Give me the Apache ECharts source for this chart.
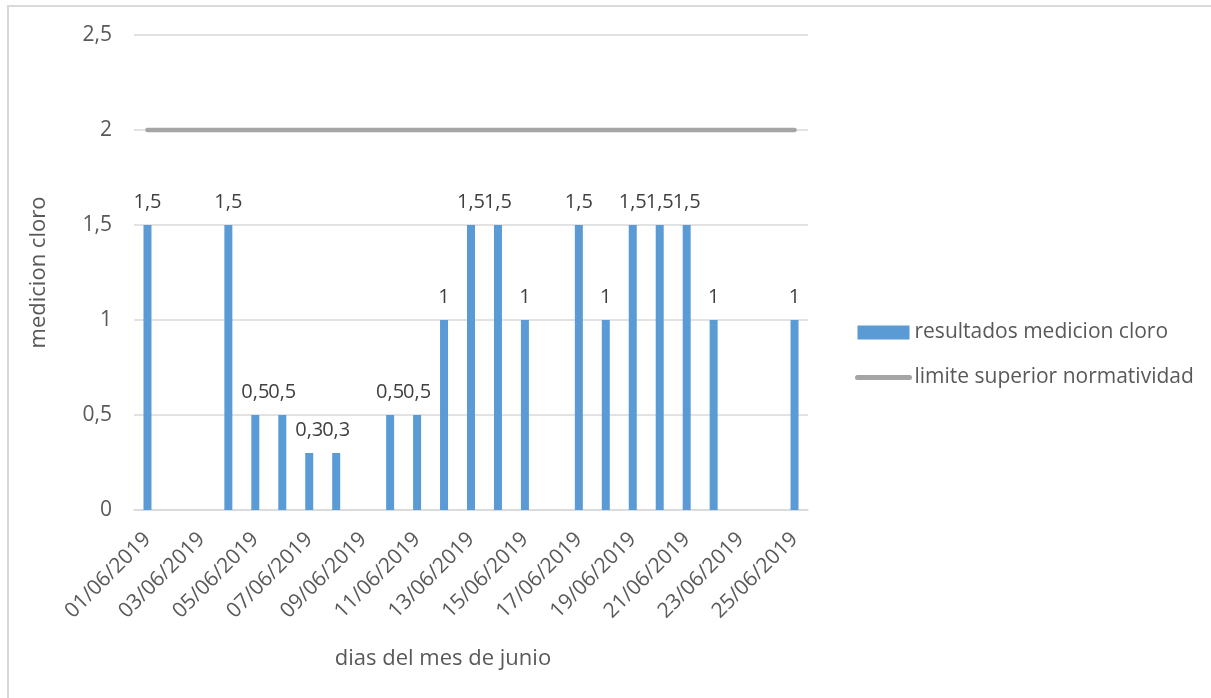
<!DOCTYPE html>
<html>
<head>
<meta charset="utf-8">
<script src="https://cdn.jsdelivr.net/npm/echarts@6/dist/echarts.min.js"></script>
<style>
  html, body { margin: 0; padding: 0; background: #fff; }
  #chart { width: 1211px; height: 698px; }
</style>
</head>
<body>
<div id="chart"></div>
<script>
// Días de junio 2019 (una categoría por día)
const dias = [
  '01/06/2019','02/06/2019','03/06/2019','04/06/2019','05/06/2019',
  '06/06/2019','07/06/2019','08/06/2019','09/06/2019','10/06/2019',
  '11/06/2019','12/06/2019','13/06/2019','14/06/2019','15/06/2019',
  '16/06/2019','17/06/2019','18/06/2019','19/06/2019','20/06/2019',
  '21/06/2019','22/06/2019','23/06/2019','24/06/2019','25/06/2019'
];
// Medición de cloro por día (null = sin medición)
const medicionCloro = [
  1.5, null, null, 1.5, 0.5,
  0.5, 0.3, 0.3, null, 0.5,
  0.5, 1, 1.5, 1.5, 1,
  null, 1.5, 1, 1.5, 1.5,
  1.5, 1, null, null, 1
];
// Límite superior de la normatividad
const limiteSuperior = dias.map(() => 2);
const yTicks = { min: 0, max: 2.5, interval: 0.5 };

const FONT = '"Open Sans", "Noto Sans", sans-serif';
const coma = v => String(v).replace('.', ',');

const chart = echarts.init(document.getElementById('chart'), null, { renderer: 'canvas' });
chart.setOption({
  backgroundColor: '#ffffff',
  animation: false,
  textStyle: { fontFamily: FONT },
  graphic: [{
    type: 'rect',
    shape: { x: 8, y: 6, width: 1400, height: 900 },
    style: { fill: 'none', stroke: '#D9D9D9', lineWidth: 2 },
    silent: true,
    z: -10
  }],
  grid: { left: 134, right: 403, top: 35, bottom: 188 },
  legend: {
    orient: 'vertical',
    left: 855,
    top: 322,
    padding: 0,
    itemWidth: 52,
    itemHeight: 14,
    itemGap: 24,
    textStyle: { color: '#595959', fontSize: 21, fontFamily: FONT },
    data: [
      { name: 'resultados medicion cloro', icon: 'rect' },
      {
        name: 'limite superior normatividad',
        lineStyle: { width: 5, cap: 'round', color: '#A5A5A5' },
        itemStyle: { opacity: 0 }
      }
    ]
  },
  xAxis: {
    type: 'category',
    data: dias,
    boundaryGap: true,
    name: 'dias del mes de junio',
    nameLocation: 'middle',
    nameGap: 138,
    nameTextStyle: { color: '#595959', fontSize: 22, padding: [0, 56, 0, 0] },
    axisLine: { lineStyle: { color: '#D9D9D9', width: 1.5 } },
    axisTick: { show: false },
    axisLabel: {
      interval: 1,
      rotate: 45,
      margin: 26,
      color: '#595959',
      fontSize: 21
    }
  },
  yAxis: {
    type: 'value',
    min: yTicks.min,
    max: yTicks.max,
    interval: yTicks.interval,
    name: 'medicion cloro',
    nameLocation: 'middle',
    nameGap: 84,
    nameTextStyle: { color: '#595959', fontSize: 22 },
    axisLine: { show: false },
    axisTick: { show: false },
    axisLabel: { color: '#595959', fontSize: 21, margin: 22, formatter: coma },
    splitLine: { lineStyle: { color: '#D9D9D9', width: 1.5 } }
  },
  series: [
    {
      name: 'resultados medicion cloro',
      type: 'bar',
      data: medicionCloro,
      barWidth: 8,
      itemStyle: { color: '#5B9BD5' },
      label: {
        show: true,
        position: 'top',
        distance: 13,
        color: '#404040',
        fontSize: 20,
        formatter: p => coma(p.value)
      },
      z: 2
    },
    {
      name: 'limite superior normatividad',
      type: 'line',
      data: limiteSuperior,
      symbol: 'none',
      lineStyle: { color: '#A5A5A5', width: 4.5, cap: 'round' },
      itemStyle: { color: '#A5A5A5' },
      z: 3
    }
  ]
});
</script>
</body>
</html>
